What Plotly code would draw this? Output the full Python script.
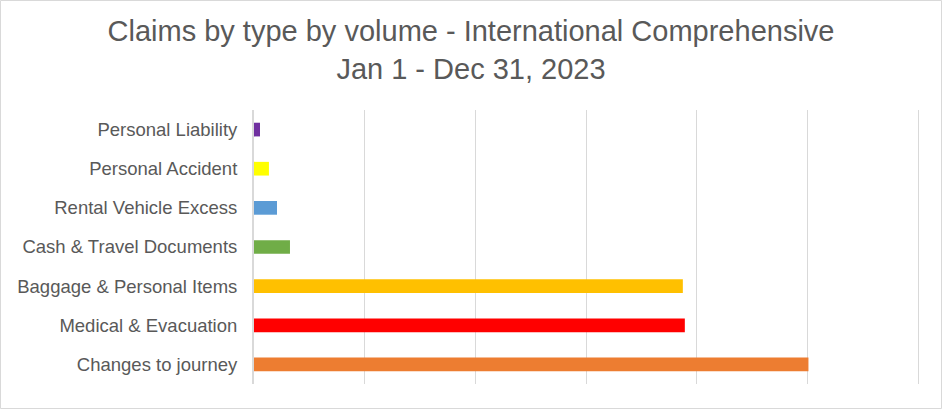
import plotly.graph_objects as go

categories = ["Changes to journey", "Medical & Evacuation", "Baggage & Personal Items",
              "Cash & Travel Documents", "Rental Vehicle Excess", "Personal Accident",
              "Personal Liability"]
volumes = [5010, 3893, 3875, 325, 208, 135, 54]
colors = ["#ED7D31", "#FF0000", "#FFC000", "#70AD47", "#5B9BD5", "#FFFF00", "#7030A0"]

W, H = 942, 409
ml, mr, mt, mb = 254, 22, 110, 25

fig = go.Figure(go.Bar(
    x=volumes, y=categories, orientation="h",
    marker=dict(color=colors, line=dict(width=0)),
    width=0.35,
))

pw = W - ml - mr
ph = H - mt - mb
fig.add_shape(type="rect", xref="paper", yref="paper",
              x0=-ml / pw + 0.5 / pw, x1=1 + (mr - 0.5) / pw,
              y0=-mb / ph + 0.5 / ph, y1=1 + (mt - 0.5) / ph,
              line=dict(color="#D9D9D9", width=1), layer="below")

fig.update_layout(
    width=W, height=H,
    margin=dict(l=ml, r=mr, t=mt, b=mb),
    paper_bgcolor="white", plot_bgcolor="white",
    showlegend=False,
    font=dict(family="Liberation Sans, Arial, sans-serif", color="#595959"),
    title=dict(
        text="Claims by type by volume - International Comprehensive<br>Jan 1 - Dec 31, 2023",
        x=0.5, xanchor="center", xref="container",
        y=1 - 41 / H, yanchor="top", yref="container",
        font=dict(size=29, color="#595959"),
    ),
    xaxis=dict(range=[0, 6018], dtick=1000, showticklabels=False,
               showgrid=True, gridcolor="#D9D9D9", gridwidth=1,
               zeroline=False, showline=False, fixedrange=True),
    yaxis=dict(showline=True, linecolor="#D9D9D9", linewidth=2,
               tickfont=dict(size=18.5, color="#595959"),
               ticks="", ticklabelstandoff=11, showgrid=False),
)

fig.write_html("out.html", config={"displayModeBar": False},
               post_script="document.body.style.margin='0';document.body.style.padding='0';")
